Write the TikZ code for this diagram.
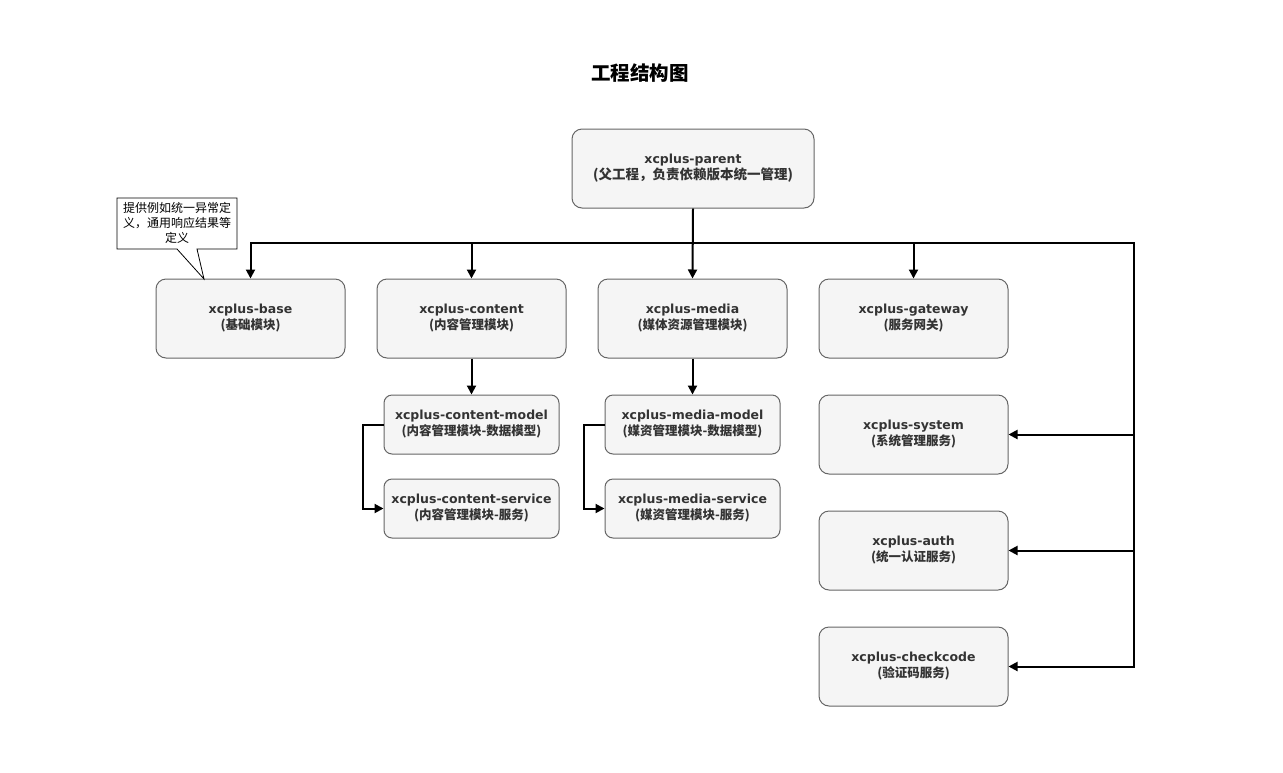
\documentclass[tikz,border=0pt]{standalone}
\usepackage{fontspec}
\setmainfont{DejaVu Sans}
\newfontfamily\cjk{Noto Sans CJK SC}
\usetikzlibrary{arrows.meta}

\definecolor{boxfill}{HTML}{F5F5F5}
\definecolor{boxline}{HTML}{666666}
\definecolor{boxtext}{HTML}{333333}

\tikzset{
  modbox/.style={draw=boxline, line width=1pt, fill=boxfill, rounded corners=10pt,
    minimum width=189pt, minimum height=79pt, inner sep=0pt,
    align=center, text=boxtext, font=\fontsize{12.5}{16}\selectfont\bfseries},
  submod/.style={modbox, minimum width=175pt, minimum height=59pt, rounded corners=8pt},
  bus/.style={line width=2pt, -{Triangle[length=9pt,width=9pt]}},
}

\begin{document}
\begin{tikzpicture}[x=1pt, y=-1pt]
  \useasboundingbox (0,0) rectangle (1283,772);

  \node[font=\cjk\fontsize{19.5}{22}\selectfont\bfseries] (title) at (640,73) {工程结构图};

  \node[modbox, minimum width=242pt] (parent) at (693,168.5)
    {xcplus-parent\\{\cjk\fontsize{13.5}{16}\selectfont (父工程，负责依赖版本统一管理)}};

  % first row
  \node[modbox] (base)    at (250.5,318.5) {xcplus-base\\{\cjk (基础模块)}};
  \node[modbox] (content) at (471.5,318.5) {xcplus-content\\{\cjk (内容管理模块)}};
  \node[modbox] (media)   at (692.5,318.5) {xcplus-media\\{\cjk (媒体资源管理模块)}};
  \node[modbox] (gateway) at (913.5,318.5) {xcplus-gateway\\{\cjk (服务网关)}};

  % sub modules
  \node[submod] (cmodel)   at (471.5,424.5) {xcplus-content-model\\{\cjk (内容管理模块-数据模型)}};
  \node[submod] (cservice) at (471.5,508.5) {xcplus-content-service\\{\cjk (内容管理模块-服务)}};
  \node[submod] (mmodel)   at (692.5,424.5) {xcplus-media-model\\{\cjk (媒资管理模块-数据模型)}};
  \node[submod] (mservice) at (692.5,508.5) {xcplus-media-service\\{\cjk (媒资管理模块-服务)}};

  % services on the right
  \node[modbox] (system)    at (913.5,434.5) {xcplus-system\\{\cjk (系统管理服务)}};
  \node[modbox] (auth)      at (913.5,550.5) {xcplus-auth\\{\cjk (统一认证服务)}};
  \node[modbox] (checkcode) at (913.5,666.5) {xcplus-checkcode\\{\cjk (验证码服务)}};

  \coordinate (busL) at (250.5,243);
  \coordinate (busR) at (1134,243);

  \draw[bus] (parent.south) -- (parent.south |- busL) -| (base.north);
  \draw[bus] (parent.south) -- (parent.south |- busL) -| (content.north);
  \draw[bus] (parent.south) -- (media.north);
  \draw[bus] (parent.south) -- (parent.south |- busL) -| (gateway.north);
  \draw[bus] (parent.south) -- (parent.south |- busR) -- (busR) |- (system.east);
  \draw[bus] (busR) |- (auth.east);
  \draw[bus] (busR) |- (checkcode.east);

  \draw[bus] (content.south) -- (cmodel.north);
  \draw[bus] (media.south) -- (mmodel.north);
  \draw[bus] (cmodel.west) -- ++(-21,0) |- (cservice.west);
  \draw[bus] (mmodel.west) -- ++(-21,0) |- (mservice.west);

  % Hinweis
  \draw[fill=white, line width=0.8pt] (117,198) -- (237,198) -- (237,249) -- (197,249)
    -- (204,279) -- (177,249) -- (117,249) -- cycle;
  \node[font=\cjk\fontsize{12}{15}\selectfont, align=center] (note) at (177,223)
    {提供例如统一异常定\\义，通用响应结果等\\定义};

\end{tikzpicture}
\end{document}
